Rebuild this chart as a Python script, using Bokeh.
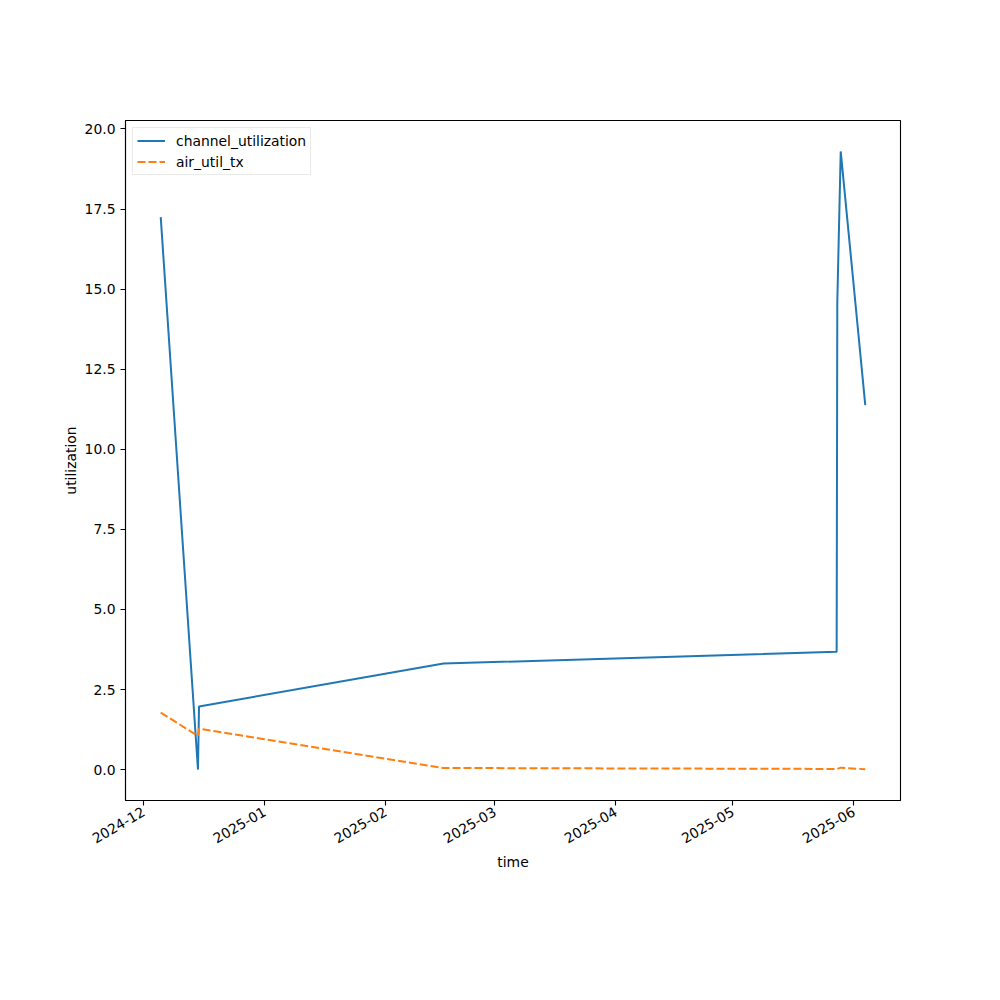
import math
import pandas as pd
from bokeh.plotting import figure
from bokeh.models import (Range1d, MonthsTicker, DatetimeTickFormatter, SingleIntervalTicker,
                          NumeralTickFormatter, Legend, LegendItem, ColumnDataSource)
from bokeh.embed import file_html
from bokeh.resources import INLINE

times = ["2024-12-05 09:00", "2024-12-14 22:00", "2024-12-15 04:30", "2025-02-15 20:00",
         "2025-05-27 14:00", "2025-05-27 18:00", "2025-05-28 15:00", "2025-06-03 22:00"]
channel_utilization = [17.25, 0.0, 1.97, 3.31, 3.68, 14.6, 19.3, 11.38]
air_util_tx = [1.78, 1.05, 1.28, 0.05, 0.02, 0.02, 0.06, 0.01]

FONT = "DejaVu Sans"
FS = "13.9px"

t = pd.to_datetime(times)
src = ColumnDataSource(dict(t=t, cu=channel_utilization, at=air_util_tx))

tmin, tmax = t.min(), t.max()
tpad = (tmax - tmin) * 0.05
allv = channel_utilization + air_util_tx
vmin, vmax = min(allv), max(allv)
vpad = (vmax - vmin) * 0.05

p = figure(width=992, height=992, output_backend="svg", toolbar_location=None,
           x_axis_type="datetime",
           x_range=Range1d(tmin - tpad, tmax + tpad),
           y_range=Range1d(vmin - vpad, vmax + vpad),
           min_border_left=125, min_border_right=92, min_border_top=120, min_border_bottom=192)

r1 = p.line("t", "cu", source=src, line_color="#1f77b4", line_width=2)
r2 = p.line("t", "at", source=src, line_color="#ff7f0e", line_width=2, line_dash="8 3")

p.xgrid.visible = False
p.ygrid.visible = False
p.outline_line_color = "black"
p.outline_line_width = 1.1
p.background_fill_color = "white"
p.border_fill_color = "white"

p.xaxis.ticker = MonthsTicker(months=list(range(1, 13)))
p.xaxis.formatter = DatetimeTickFormatter(months="%Y-%m", days="%Y-%m-%d", years="%Y")
p.xaxis.major_label_orientation = math.pi / 6
p.yaxis.ticker = SingleIntervalTicker(interval=2.5)
p.yaxis.formatter = NumeralTickFormatter(format="0.0")

p.xaxis.axis_label = "time"
p.yaxis.axis_label = "utilization"

for ax in (p.xaxis, p.yaxis):
    ax.axis_label_text_font = FONT
    ax.axis_label_text_font_size = FS
    ax.axis_label_text_font_style = "normal"
    ax.axis_label_text_color = "black"
    ax.major_label_text_font = FONT
    ax.major_label_text_font_size = FS
    ax.major_label_text_color = "black"
    ax.axis_line_color = "black"
    ax.axis_line_width = 1.1
    ax.major_tick_line_color = "black"
    ax.major_tick_line_width = 1.1
    ax.major_tick_out = 5
    ax.major_tick_in = 0
    ax.minor_tick_line_color = None
    ax.major_label_standoff = 5

p.yaxis.axis_label_standoff = 3
p.xaxis.axis_label_standoff = 3

legend = Legend(items=[LegendItem(label="channel_utilization", renderers=[r1]),
                       LegendItem(label="air_util_tx", renderers=[r2])],
                location="top_left")
legend.label_text_font = FONT
legend.label_text_font_size = FS
legend.label_text_color = "black"
legend.border_line_color = "#d5d5d5"
legend.border_line_width = 1
legend.background_fill_alpha = 0.8
legend.margin = 7
legend.padding = 4
legend.spacing = 4
legend.glyph_width = 28
legend.glyph_height = 17
legend.label_height = 17
legend.label_standoff = 11
p.add_layout(legend)

open("out.html", "w").write(file_html(p, INLINE))
